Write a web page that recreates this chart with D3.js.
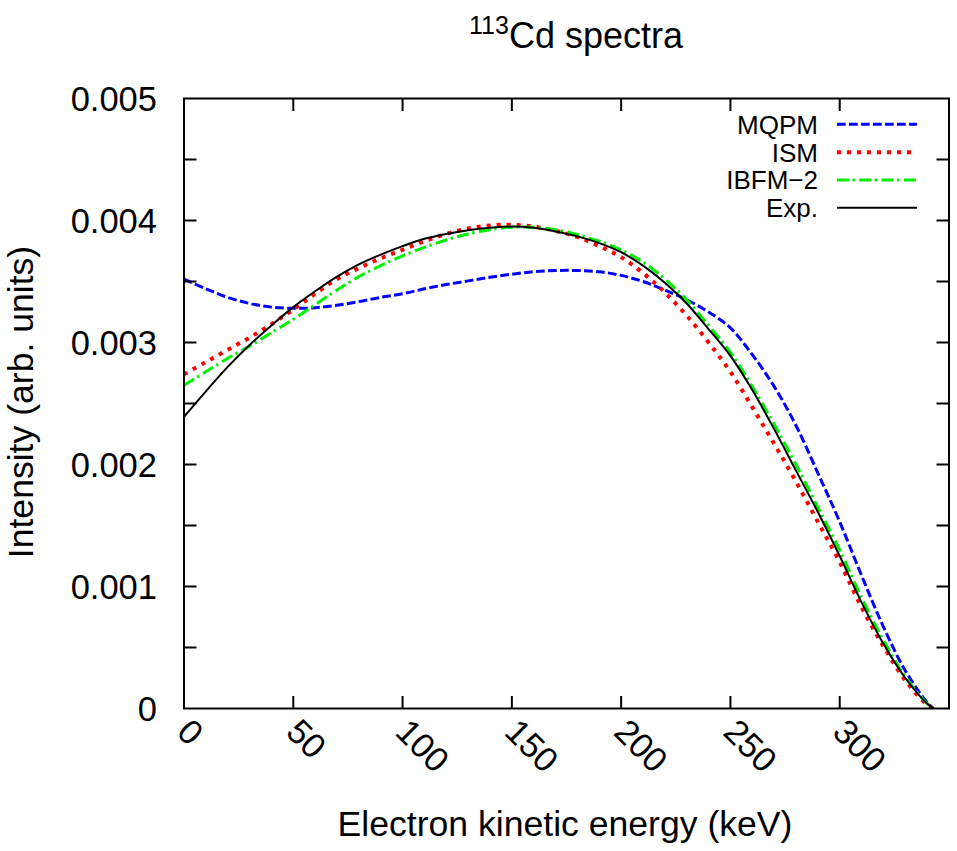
<!DOCTYPE html>
<html>
<head>
<meta charset="utf-8">
<script src="https://d3js.org/d3.v7.min.js"></script>
<style>
  html, body { margin: 0; padding: 0; background: #fff; }
  svg { display: block; }
  text { font-family: "Liberation Sans", Arial, Helvetica, sans-serif; fill: #000; }
</style>
</head>
<body>
<svg id="chart" width="957" height="851"></svg>
<script>
// ---- data (intensity in units of 1e-3) ----
const energy = [0,10,20,30,40,50,60,70,80,90,100,110,120,130,140,150,160,170,180,190,200,210,220,230,240,250,260,270,280,290,300,310,320,330,340,343];
const mqpm  = [3.52,3.44,3.37,3.32,3.29,3.28,3.285,3.305,3.335,3.37,3.40,3.44,3.475,3.505,3.535,3.56,3.58,3.59,3.59,3.58,3.55,3.50,3.43,3.35,3.25,3.12,2.90,2.64,2.32,1.93,1.53,1.09,0.67,0.31,0.05,0];
const ism   = [2.74,2.84,2.94,3.04,3.15,3.27,3.40,3.52,3.61,3.69,3.76,3.83,3.89,3.935,3.96,3.965,3.95,3.915,3.865,3.79,3.70,3.57,3.41,3.22,3.00,2.76,2.47,2.17,1.86,1.53,1.20,0.83,0.51,0.23,0.03,0];
const ibfm2 = [2.65,2.76,2.87,2.97,3.08,3.19,3.31,3.43,3.54,3.63,3.71,3.78,3.84,3.89,3.925,3.945,3.945,3.925,3.885,3.83,3.76,3.66,3.52,3.35,3.14,2.92,2.64,2.33,2.00,1.65,1.30,0.91,0.56,0.26,0.04,0];
const expt  = [2.39,2.60,2.80,2.98,3.14,3.29,3.42,3.54,3.64,3.72,3.79,3.85,3.89,3.92,3.94,3.95,3.94,3.91,3.87,3.815,3.74,3.63,3.49,3.32,3.11,2.89,2.61,2.29,1.95,1.61,1.25,0.87,0.53,0.25,0.04,0];

const seriesNames = ["MQPM","ISM","IBFM\u22122","Exp."];
const seriesColors = ["#0000ff","#ff0000","#00ee00","#000000"];
const xTicks = [0,50,100,150,200,250,300];
const yTicks = [0,0.001,0.002,0.003,0.004,0.005];
const yMinorTicks = [0.0005,0.0015,0.0025,0.0035,0.0045];

// ---- layout ----
const svg = d3.select("#chart");
const L = 184, R = 949, T = 98.5, B = 708.5;
const x = d3.scaleLinear().domain([0,350]).range([L,R]);
const y = d3.scaleLinear().domain([0,0.005]).range([B,T]);

const styles = [
  {w:3, dash:"8.7,3.3", cap:"butt"},
  {w:4, dash:"4,6", cap:"butt"},
  {w:3, dash:"12,3.5,2.3,4.5", cap:"butt"},
  {w:2, dash:null, cap:"butt"}
];
const data = [mqpm, ism, ibfm2, expt];

// curves (clipped to frame)
svg.append("clipPath").attr("id","clip").append("rect")
  .attr("x",L).attr("y",T).attr("width",R-L).attr("height",B-T);

const line = d3.line()
  .x(d => x(d[0])).y(d => y(d[1]*1e-3))
  .curve(d3.curveCatmullRom.alpha(0.5));

const g = svg.append("g").attr("clip-path","url(#clip)");
data.forEach((arr,i) => {
  const pts = energy.map((e,k) => [e, arr[k]]);
  const p = g.append("path").datum(pts)
    .attr("d", line)
    .attr("fill","none")
    .attr("stroke", seriesColors[i])
    .attr("stroke-width", styles[i].w)
    .attr("stroke-linecap", styles[i].cap)
    .attr("stroke-linejoin","round");
  if (styles[i].dash) p.attr("stroke-dasharray", styles[i].dash);
});

// frame
const tickLen = 12.5;
const axisG = svg.append("g").attr("stroke","#000").attr("stroke-width",2);
xTicks.forEach(v => {
  if (v === 0) return;
  axisG.append("line").attr("x1",x(v)).attr("x2",x(v)).attr("y1",B).attr("y2",B-tickLen);
  axisG.append("line").attr("x1",x(v)).attr("x2",x(v)).attr("y1",T).attr("y2",T+tickLen);
});
yTicks.concat(yMinorTicks).forEach(v => {
  if (v === 0 || v === 0.005) return;
  axisG.append("line").attr("x1",L).attr("x2",L+tickLen).attr("y1",y(v)).attr("y2",y(v));
  axisG.append("line").attr("x1",R).attr("x2",R-tickLen).attr("y1",y(v)).attr("y2",y(v));
});
axisG.append("rect").attr("x",L).attr("y",T).attr("width",R-L).attr("height",B-T)
  .attr("fill","none");

// y tick labels
const fmtY = d3.format(".3f");
svg.append("g").selectAll("text").data(yTicks).join("text")
  .attr("x",157).attr("y",d => y(d)).attr("dy","0.36em")
  .attr("text-anchor","end").attr("font-size",34.5)
  .text(d => d === 0 ? "0" : fmtY(d));

// x tick labels (rotated)
svg.append("g").selectAll("text").data(xTicks).join("text")
  .attr("transform", d => `translate(${x(d)},725) rotate(45)`)
  .attr("dy","0.36em")
  .attr("text-anchor","start").attr("font-size",34.5)
  .text(d => d);

// axis titles
svg.append("text").attr("x",565).attr("y",836)
  .attr("text-anchor","middle").attr("font-size",35.6)
  .text("Electron kinetic energy (keV)");
svg.append("text").attr("transform",`translate(33,402) rotate(-90)`)
  .attr("text-anchor","middle").attr("font-size",35.6)
  .text("Intensity (arb. units)");

// title
const title = svg.append("text").attr("x",576).attr("y",48)
  .attr("text-anchor","middle").attr("font-size",36);
title.append("tspan").attr("font-size",25).attr("dy",-14).text("113");
title.append("tspan").attr("dy",14).text("Cd spectra");

// legend
const legY = [124.3, 152.3, 180, 207.7];
const leg = svg.append("g");
seriesNames.forEach((nm,i) => {
  leg.append("text").attr("x",818).attr("y",legY[i]).attr("dy","0.36em")
    .attr("text-anchor","end").attr("font-size",26).text(nm);
  const l = leg.append("line").attr("x1",837).attr("x2",917)
    .attr("y1",legY[i]).attr("y2",legY[i])
    .attr("stroke",seriesColors[i]).attr("stroke-width",styles[i].w);
  if (styles[i].dash) l.attr("stroke-dasharray",styles[i].dash);
});
</script>
</body>
</html>
